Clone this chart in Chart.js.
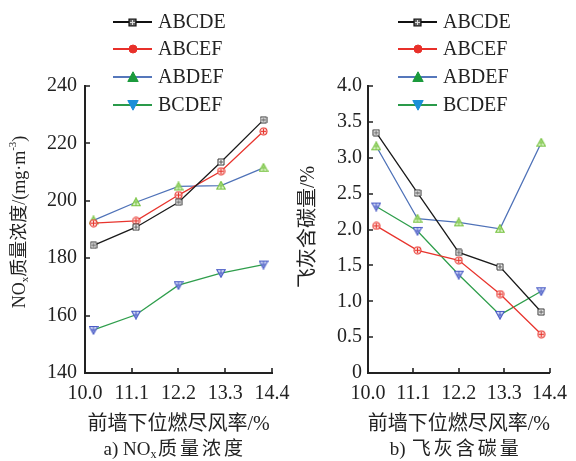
<!DOCTYPE html>
<html>
<head>
<meta charset="utf-8">
<script src="https://cdn.jsdelivr.net/npm/chart.js@4/dist/chart.umd.min.js"></script>
<style>
  html, body { margin: 0; padding: 0; background: #fff; }
  #wrap { position: relative; width: 576px; height: 461px; overflow: hidden; }
  canvas { position: absolute; top: 0; }
</style>
</head>
<body>
<div id="wrap">
  <canvas id="noxChart" width="300" height="461" style="left:0"></canvas>
  <canvas id="carbonChart" width="288" height="461" style="left:288px"></canvas>
</div>
<script>
// Burner-combination cases
const seriesNames = ['ABCDE', 'ABCEF', 'ABDEF', 'BCDEF'];
// Measured positions of the lower front-wall OFA rate (%)
const ofaRate = [10.2, 11.2, 12.2, 13.2, 14.2];
// Axis tick labels
const xTickValues = [10.0, 11.1, 12.2, 13.3, 14.4];
const noxTicks = [140, 160, 180, 200, 220, 240];
const carbonTicks = [0, 0.5, 1.0, 1.5, 2.0, 2.5, 3.0, 3.5, 4.0];

// a) NOx mass concentration, mg/m3
const noxABCDE = [184.5, 190.8, 199.5, 213.5, 228.2];
const noxABCEF = [192.2, 193.0, 202.0, 210.3, 224.2];
const noxABDEF = [193.2, 199.5, 205.0, 205.3, 211.5];
const noxBCDEF = [155.0, 160.3, 170.6, 174.8, 177.8];

// b) Unburned carbon in fly ash, %
const carbonABCDE = [3.35, 2.51, 1.68, 1.48, 0.85];
const carbonABCEF = [2.05, 1.71, 1.57, 1.10, 0.54];
const carbonABDEF = [3.16, 2.15, 2.10, 2.01, 3.21];
const carbonBCDEF = [2.32, 1.98, 1.37, 0.81, 1.14];

const SERIF = '"Liberation Serif", "Times New Roman", "Noto Sans CJK SC", serif';
const lineColors = ['#1a1a1a', '#e8352e', '#4f72b8', '#2f9e4c'];
const legendLineColors = ['#111111', '#e8302a', '#5577bb', '#2a9a4a'];

// ---- marker glyphs ----
function glyph(kind, size, stroke, fill, inner, lw) {
  const c = document.createElement('canvas');
  c.width = size; c.height = size;
  const g = c.getContext('2d');
  const m = size / 2;
  g.lineWidth = lw;
  g.strokeStyle = stroke;
  g.fillStyle = fill;
  g.beginPath();
  if (kind === 'square') {
    g.rect(1, 1, size - 2, size - 2);
  } else if (kind === 'circle') {
    g.arc(m, m, m - 1, 0, Math.PI * 2);
  } else if (kind === 'up') {
    g.moveTo(m, 0.8); g.lineTo(size - 0.8, size - 1.5); g.lineTo(0.8, size - 1.5); g.closePath();
  } else {
    g.moveTo(0.8, 1.5); g.lineTo(size - 0.8, 1.5); g.lineTo(m, size - 0.8); g.closePath();
  }
  g.fill(); g.stroke();
  if (inner) {
    g.strokeStyle = inner; g.lineWidth = 1;
    g.beginPath();
    if (kind === 'square' || kind === 'circle') {
      g.moveTo(2, m); g.lineTo(size - 2, m);
      g.moveTo(m, 2); g.lineTo(m, size - 2);
    } else {
      g.moveTo(m, 2); g.lineTo(m, size - 2);
      g.moveTo(m - 2, m); g.lineTo(m + 2, m);
    }
    g.stroke();
  }
  return c;
}

const plotMarkers = [
  glyph('square', 8, '#333333', '#ffffff', '#555555', 1),
  glyph('circle', 9, '#e8352e', '#fbd9d5', '#e8352e', 1.1),
  glyph('up', 10, '#79c443', '#d9f0c6', '#79c443', 1.1),
  glyph('down', 10, '#4a5cc6', '#cdd4f2', '#4a5cc6', 1.1)
];
const legendMarkers = [
  glyph('square', 9, '#111111', '#666666', '#dddddd', 1.2),
  glyph('circle', 10, '#e8302a', '#e8302a', null, 1),
  glyph('up', 12, '#1b9a3c', '#1b9a3c', null, 1),
  glyph('down', 12, '#1a8fd8', '#1a8fd8', null, 1)
];

// ---- rich text (sub / superscripts, spacing) ----
function drawRich(ctx, parts, cx, cy, size, spacing) {
  spacing = spacing || 0;
  const pieces = [];
  let total = 0;
  parts.forEach(p => {
    const fs = (p.sub || p.sup) ? Math.round(size * 0.62) : size;
    ctx.font = fs + 'px ' + SERIF;
    [...p.t].forEach(ch => {
      const w = ctx.measureText(ch).width;
      const extra = /[\u4e00-\u9fff]/.test(ch) ? spacing : 0;
      pieces.push({ ch, fs, w, extra, dy: p.sub ? size * 0.28 : (p.sup ? -size * 0.38 : 0) });
      total += w + extra;
    });
  });
  let x = cx - total / 2;
  ctx.textBaseline = 'middle';
  ctx.textAlign = 'left';
  pieces.forEach(pc => {
    ctx.font = pc.fs + 'px ' + SERIF;
    ctx.fillText(pc.ch, x + pc.extra / 2, cy + pc.dy);
    x += pc.w + pc.extra;
  });
}

// ---- decorations: inward ticks, titles, caption, legend ----
const decor = {
  id: 'decor',
  afterDraw(chart, args, opts) {
    const ctx = chart.ctx;
    const area = chart.chartArea;
    const xs = chart.scales.x, ys = chart.scales.y;
    ctx.save();
    ctx.strokeStyle = '#222';
    ctx.lineWidth = 1.6;
    ctx.beginPath();
    xs.ticks.forEach(t => {
      const px = Math.round(xs.getPixelForValue(t.value));
      ctx.moveTo(px, area.bottom); ctx.lineTo(px, area.bottom - 5);
    });
    ys.ticks.forEach(t => {
      const py = Math.round(ys.getPixelForValue(t.value));
      ctx.moveTo(area.left, py); ctx.lineTo(area.left + 5, py);
    });
    ctx.stroke();

    ctx.fillStyle = '#222';
    // x title
    drawRich(ctx, [{ t: '前墙下位燃尽风率/%' }], (area.left + area.right) / 2, 425, 20, 0);
    // caption
    drawRich(ctx, opts.caption, opts.captionX, 450, 19, 3);
    // y title
    ctx.save();
    ctx.translate(opts.yTitleX, opts.yTitleY);
    ctx.rotate(-Math.PI / 2);
    drawRich(ctx, opts.yTitle, 0, 0, opts.yTitleSize, 0);
    ctx.restore();

    // legend
    const rows = [22, 49, 77, 105];
    chart.data.datasets.forEach((ds, i) => {
      const y = rows[i];
      ctx.strokeStyle = legendLineColors[i];
      ctx.lineWidth = 2;
      ctx.beginPath();
      ctx.moveTo(opts.legendX, y); ctx.lineTo(opts.legendX + 39, y);
      ctx.stroke();
      const mk = legendMarkers[i];
      ctx.drawImage(mk, Math.round(opts.legendX + 19.5 - mk.width / 2), Math.round(y - mk.height / 2));
      ctx.fillStyle = '#222';
      ctx.font = '20px ' + SERIF;
      ctx.textAlign = 'left';
      ctx.textBaseline = 'middle';
      ctx.fillText(ds.label, opts.legendX + 45, y + 1);
    });
    ctx.restore();
  }
};

function makeChart(id, cfg) {
  const datasets = cfg.series.map((vals, i) => ({
    label: seriesNames[i],
    data: ofaRate.map((x, j) => ({ x, y: vals[j] })),
    borderColor: lineColors[i],
    borderWidth: 1.3,
    pointStyle: plotMarkers[i],
    pointRadius: 4,
    tension: 0,
    fill: false
  }));
  const tickFont = { family: SERIF, size: 20 };
  return new Chart(document.getElementById(id), {
    type: 'line',
    data: { datasets },
    options: {
      responsive: false,
      animation: false,
      devicePixelRatio: 1,
      layout: { padding: { top: 86, right: cfg.padRight, left: 0, bottom: 0 } },
      plugins: { legend: { display: false }, tooltip: { enabled: false }, decor: cfg.decor },
      scales: {
        x: {
          type: 'linear', min: 10.0, max: 14.4,
          afterBuildTicks: s => { s.ticks = xTickValues.map(v => ({ value: v })); },
          afterFit: s => { s.height = 88; },
          grid: { display: true, drawOnChartArea: false, drawTicks: false },
          border: { display: true, width: 2, color: '#222' },
          ticks: { padding: 9, font: tickFont, color: '#222', autoSkip: false, maxRotation: 0,
                   callback: v => Number(v).toFixed(1) }
        },
        y: {
          type: 'linear', min: cfg.yMin, max: cfg.yMax,
          afterBuildTicks: s => { s.ticks = cfg.yTicks.map(v => ({ value: v })); },
          afterFit: s => { s.width = cfg.yWidth; },
          grid: { display: true, drawOnChartArea: false, drawTicks: false },
          border: { display: true, width: 2, color: '#222' },
          ticks: { padding: cfg.yPad, font: tickFont, color: '#222', autoSkip: false,
                   callback: cfg.yFmt }
        }
      }
    },
    plugins: [decor]
  });
}

makeChart('noxChart', {
  series: [noxABCDE, noxABCEF, noxABDEF, noxBCDEF],
  yMin: 140, yMax: 240, yTicks: noxTicks, yWidth: 85, yPad: 8, padRight: 28,
  yFmt: v => String(v),
  decor: {
    legendX: 113, yTitleX: 20, yTitleY: 222, yTitleSize: 18, captionX: 174,
    caption: [{ t: 'a) NO' }, { t: 'x', sub: true }, { t: '质量浓度' }],
    yTitle: [{ t: 'NO' }, { t: 'x', sub: true }, { t: '质量浓度/(mg·m' }, { t: '-3', sup: true }, { t: ')' }]
  }
});

makeChart('carbonChart', {
  series: [carbonABCDE, carbonABCEF, carbonABDEF, carbonBCDEF],
  yMin: 0, yMax: 4.0, yTicks: carbonTicks, yWidth: 80, yPad: 6, padRight: 21,
  yFmt: v => (v === 0 ? '0' : Number(v).toFixed(1)),
  decor: {
    legendX: 110, yTitleX: 21, yTitleY: 227, yTitleSize: 20, captionX: 167,
    caption: [{ t: 'b) 飞灰含碳量' }],
    yTitle: [{ t: '飞灰含碳量/%' }]
  }
});
</script>
</body>
</html>
